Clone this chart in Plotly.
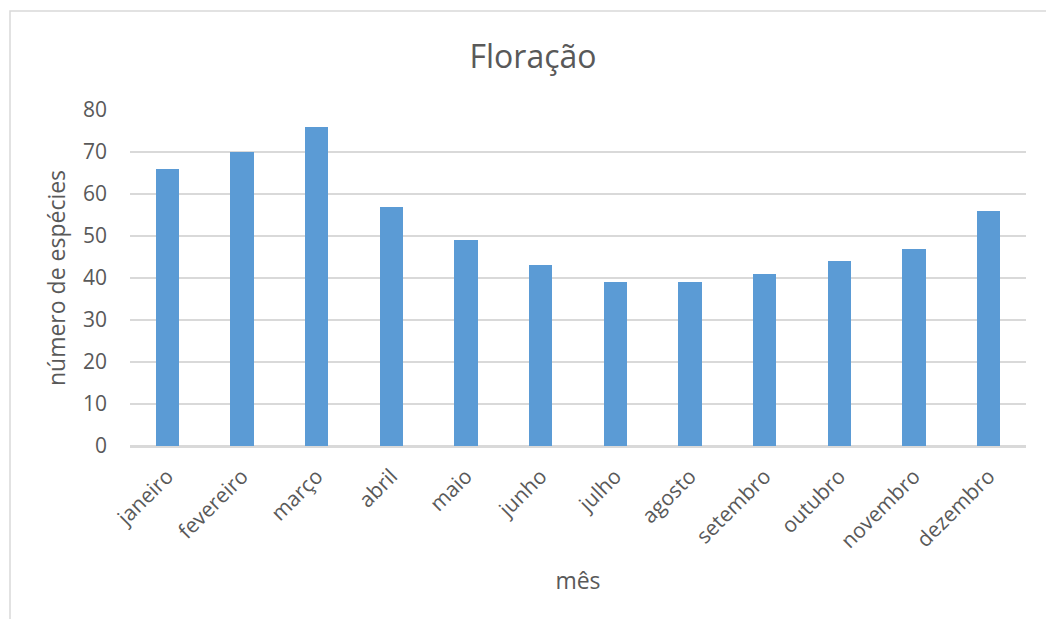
import plotly.graph_objects as go

months = ["janeiro", "fevereiro", "março", "abril", "maio", "junho", "julho",
          "agosto", "setembro", "outubro", "novembro", "dezembro"]
species = [66, 70, 76, 57, 49, 43, 39, 39, 41, 44, 47, 56]
y_ticks = [0, 10, 20, 30, 40, 50, 60, 70, 80]

FONT = "Open Sans"
TXT = "#595959"
GRID = "#D9D9D9"

W, H = 1046, 619
L, R, T, B = 130, 20, 110, 173
pw, ph = W - L - R, H - T - B

fig = go.Figure(go.Bar(
    x=months, y=species,
    marker=dict(color="#5B9BD5", line=dict(width=0)),
    width=0.31,
))

fig.update_layout(
    width=W, height=H,
    margin=dict(l=L, r=R, t=T, b=B, pad=0),
    paper_bgcolor="white", plot_bgcolor="white",
    font=dict(family=FONT, color=TXT),
    showlegend=False,
    title=dict(text="Floração", x=533 / W, xref="container", xanchor="center",
               y=1 - 57 / H, yref="container", yanchor="middle",
               font=dict(size=32, color=TXT, family=FONT)),
    bargap=0,
)

fig.update_yaxes(
    range=[0, 80], tickvals=y_ticks, showgrid=True, gridcolor=GRID, gridwidth=1.5,
    zeroline=True, zerolinecolor=GRID, zerolinewidth=1.5,
    ticks="", ticklabelstandoff=22, tickfont=dict(size=21, color=TXT, family=FONT),
    title=dict(text="número de espécies", font=dict(size=23, color=TXT, family=FONT), standoff=10),
    showline=False,
)
fig.update_xaxes(
    tickangle=-45, ticks="", ticklabelstandoff=8, tickfont=dict(size=21, color=TXT, family=FONT),
    showline=True, linecolor=GRID, linewidth=1.5, showgrid=False,
    title=dict(text="mês", font=dict(size=23, color=TXT, family=FONT), standoff=20),
)

# chart-area border (left and top edges visible)
x_left = (10 - L) / pw
y_top = (H - B - 11) / ph
fig.add_shape(type="rect", xref="paper", yref="paper",
              x0=x_left, x1=(W + 10 - L) / pw, y0=(H - B - H - 10) / ph, y1=y_top,
              line=dict(color=GRID, width=1.5), layer="below")

fig.write_html("out.html")
